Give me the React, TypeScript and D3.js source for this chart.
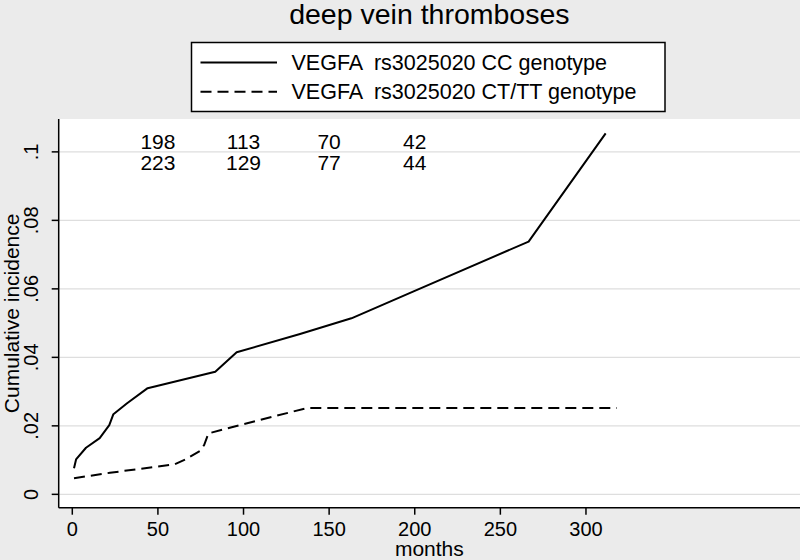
import React from "react";
import * as d3 from "d3";

const ccMonths = [1, 2.2, 8, 16, 21.6, 24, 32, 44, 83.5, 96, 133, 163, 199, 266.5, 311.5];
const ccIncidence = [0.0076, 0.0102, 0.0136, 0.0164, 0.0202, 0.0234, 0.0266, 0.031, 0.0358, 0.0415, 0.0468, 0.0514, 0.0592, 0.0738, 0.1054];

const cttMonths = [1, 22, 60, 66, 74.6, 77, 79.5, 100, 137, 318];
const cttIncidence = [0.0047, 0.0063, 0.0088, 0.0102, 0.0127, 0.0144, 0.0178, 0.0205, 0.0252, 0.0252];

const riskMonths = [50, 100, 150, 200];
const riskCC = [198, 113, 70, 42];
const riskCTT = [223, 129, 77, 44];

const xTicks = [0, 50, 100, 150, 200, 250, 300];
const yTicks = [0, 0.02, 0.04, 0.06, 0.08, 0.1];

const legendLabels = ["VEGFA  rs3025020 CC genotype", "VEGFA  rs3025020 CT/TT genotype"];

const W = 800;
const H = 560;
const plotL = 58.7;
const plotR = 800;
const plotT = 119;
const plotB = 507.7;
const FONT = "'Liberation Sans', Arial, Helvetica, sans-serif";

export default function App() {
  const x = d3.scaleLinear().domain([-7.94, 425]).range([plotL, plotR]);
  const y = d3.scaleLinear().domain([-0.0039, 0.1096]).range([plotB, plotT]);

  const line = d3
    .line<[number, number]>()
    .x((d) => x(d[0]))
    .y((d) => y(d[1]));

  const ccData: [number, number][] = ccMonths.map((m, i) => [m, ccIncidence[i]]);
  const cttData: [number, number][] = cttMonths.map((m, i) => [m, cttIncidence[i]]);

  const fmtY = (v: number) => (v === 0 ? "0" : String(+v.toFixed(2)).replace(/^0/, ""));

  const cx = (plotL + plotR) / 2;

  return (
    <svg
      width={W}
      height={H}
      viewBox={`0 0 ${W} ${H}`}
      style={{ position: "absolute", left: 0, top: 0, display: "block" }}
      fontFamily={FONT}
    >
      <rect x={0} y={0} width={W} height={H} fill="#ebebeb" />
      <rect x={plotL} y={plotT} width={plotR - plotL} height={plotB - plotT} fill="#ffffff" />

      {/* title */}
      <text x={cx} y={24} textAnchor="middle" fontSize={28.5} fill="#000">
        deep vein thromboses
      </text>

      {/* legend */}
      <rect x={191.5} y={42.5} width={473.5} height={69} fill="#fff" stroke="#000" strokeWidth={1.5} />
      <line x1={200.5} x2={277} y1={62.5} y2={62.5} stroke="#000" strokeWidth={2} />
      <line x1={200.5} x2={277} y1={91.7} y2={91.7} stroke="#000" strokeWidth={2} strokeDasharray="11,6" />
      <text x={291.5} y={62.5} dy="0.35em" fontSize={21.5} fill="#000" style={{ whiteSpace: "pre" }}>
        {legendLabels[0]}
      </text>
      <text x={291.5} y={91.7} dy="0.35em" fontSize={21.5} fill="#000" style={{ whiteSpace: "pre" }}>
        {legendLabels[1]}
      </text>

      {/* gridlines */}
      {yTicks.map((t) => (
        <line key={"g" + t} x1={plotL} x2={plotR} y1={y(t)} y2={y(t)} stroke="#dedede" strokeWidth={1.2} />
      ))}

      {/* at-risk numbers */}
      {riskMonths.map((m, i) => (
        <g key={"r" + m}>
          <text x={x(m)} y={141.7} dy="0.35em" textAnchor="middle" fontSize={21} fill="#000">
            {riskCC[i]}
          </text>
          <text x={x(m)} y={163} dy="0.35em" textAnchor="middle" fontSize={21} fill="#000">
            {riskCTT[i]}
          </text>
        </g>
      ))}

      {/* curves */}
      <path d={line(ccData) || ""} fill="none" stroke="#000" strokeWidth={2} strokeLinejoin="round" />
      <path d={line(cttData) || ""} fill="none" stroke="#000" strokeWidth={2} strokeDasharray="11,6" />

      {/* axes */}
      <line x1={plotL} x2={plotL} y1={plotT} y2={plotB} stroke="#000" strokeWidth={1.5} />
      <line x1={plotL} x2={plotR} y1={plotB} y2={plotB} stroke="#000" strokeWidth={1.5} />

      {yTicks.map((t) => (
        <g key={"y" + t}>
          <line x1={plotL - 7} x2={plotL} y1={y(t)} y2={y(t)} stroke="#000" strokeWidth={1.5} />
          <text
            transform={`translate(31,${y(t)}) rotate(-90)`}
            textAnchor="middle"
            dy="0.35em"
            fontSize={20}
            fill="#000"
          >
            {fmtY(t)}
          </text>
        </g>
      ))}

      {xTicks.map((t) => (
        <g key={"x" + t}>
          <line x1={x(t)} x2={x(t)} y1={plotB} y2={plotB + 7} stroke="#000" strokeWidth={1.5} />
          <text x={x(t)} y={535.5} textAnchor="middle" fontSize={20} fill="#000">
            {t}
          </text>
        </g>
      ))}

      <text x={cx} y={556} textAnchor="middle" fontSize={21} fill="#000">
        months
      </text>
      <text
        transform={`translate(11.5,${(plotT + plotB) / 2}) rotate(-90)`}
        textAnchor="middle"
        dy="0.35em"
        fontSize={21}
        fill="#000"
      >
        Cumulative incidence
      </text>
    </svg>
  );
}
